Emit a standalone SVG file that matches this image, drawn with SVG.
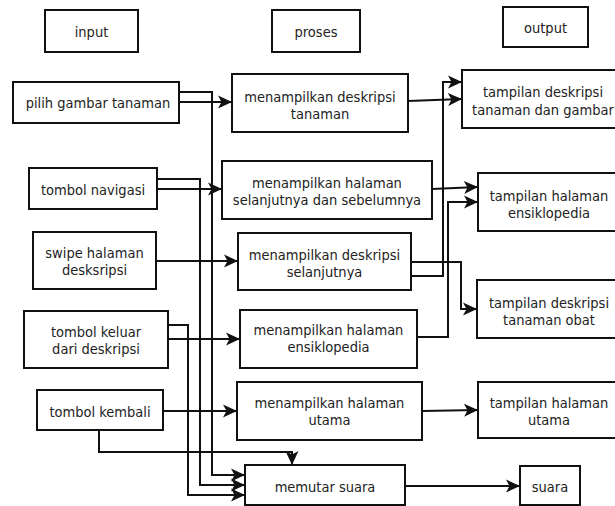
<svg xmlns="http://www.w3.org/2000/svg" width="615" height="506" viewBox="0 0 615 506">
  <style>
    .box { fill: #fff; stroke: #111; stroke-width: 2; }
    .lbl { font-family: "DejaVu Sans Condensed", "DejaVu Sans", sans-serif; font-size: 14.5px; fill: #222; text-anchor: middle; }
    .wire { fill: none; stroke: #111; stroke-width: 2; marker-end: url(#arrow); }
  </style>
  <defs>
    <marker id="arrow" markerUnits="userSpaceOnUse" markerWidth="16" markerHeight="16" refX="15" refY="8" orient="auto">
      <path d="M1,1.5 L15,8 L1,14.5 L4.5,8 Z" fill="#111"/>
    </marker>
  </defs>
  <rect width="615" height="506" fill="#fff"/>

  <!-- column headers -->
  <g id="hdr-input"><rect class="box" x="45" y="10" width="93" height="42"/><text class="lbl" x="91.5" y="36.5">input</text></g>
  <g id="hdr-proses"><rect class="box" x="272" y="10" width="88" height="42"/><text class="lbl" x="316" y="36.5">proses</text></g>
  <g id="hdr-output"><rect class="box" x="503" y="7" width="85" height="40"/><text class="lbl" x="545.5" y="32.5">output</text></g>

  <!-- inputs -->
  <g id="in-pilih"><rect class="box" x="13" y="82" width="166" height="41"/><text class="lbl" x="98" y="107.5">pilih gambar tanaman</text></g>
  <g id="in-navigasi"><rect class="box" x="29" y="168" width="128" height="41"/><text class="lbl" x="93" y="194.5">tombol navigasi</text></g>
  <g id="in-swipe"><rect class="box" x="33" y="232" width="123" height="57"/><text class="lbl" x="94.5" y="257.5">swipe halaman</text><text class="lbl" x="94.5" y="274.5">desksripsi</text></g>
  <g id="in-keluar"><rect class="box" x="24" y="311" width="144" height="57"/><text class="lbl" x="96" y="336.5">tombol keluar</text><text class="lbl" x="96" y="353.5">dari deskripsi</text></g>
  <g id="in-kembali"><rect class="box" x="37" y="390" width="126" height="40"/><text class="lbl" x="100" y="416.5">tombol kembali</text></g>

  <!-- processes -->
  <g id="pr-deskripsi"><rect class="box" x="232" y="74" width="176" height="58"/><text class="lbl" x="320" y="101.5">menampilkan deskripsi</text><text class="lbl" x="320" y="118.5">tanaman</text></g>
  <g id="pr-halaman"><rect class="box" x="222" y="161" width="210" height="58"/><text class="lbl" x="327" y="187.5">menampilkan halaman</text><text class="lbl" x="327" y="204.5">selanjutnya dan sebelumnya</text></g>
  <g id="pr-selanjutnya"><rect class="box" x="238" y="233" width="173" height="57"/><text class="lbl" x="324.5" y="259.5">menampilkan deskripsi</text><text class="lbl" x="324.5" y="276.5">selanjutnya</text></g>
  <g id="pr-ensiklopedia"><rect class="box" x="240" y="310" width="177" height="58"/><text class="lbl" x="328.5" y="334.5">menampilkan halaman</text><text class="lbl" x="328.5" y="351.5">ensiklopedia</text></g>
  <g id="pr-utama"><rect class="box" x="237" y="382" width="185" height="58"/><text class="lbl" x="329.5" y="407.5">menampilkan halaman</text><text class="lbl" x="329.5" y="424.5">utama</text></g>
  <g id="pr-suara"><rect class="box" x="245" y="465" width="160" height="40"/><text class="lbl" x="325" y="491.5">memutar suara</text></g>

  <!-- outputs -->
  <g id="out-deskripsi"><rect class="box" x="462" y="70" width="162" height="58"/><text class="lbl" x="543" y="96.5">tampilan deskripsi</text><text class="lbl" x="543" y="114.5">tanaman dan gambar</text></g>
  <g id="out-ensiklopedia"><rect class="box" x="478" y="173" width="142" height="58"/><text class="lbl" x="549" y="200.5">tampilan halaman</text><text class="lbl" x="549" y="217.5">ensiklopedia</text></g>
  <g id="out-obat"><rect class="box" x="477" y="280" width="143" height="58"/><text class="lbl" x="549" y="307.5">tampilan deskripsi</text><text class="lbl" x="549" y="324.5">tanaman obat</text></g>
  <g id="out-utama"><rect class="box" x="478" y="382" width="142" height="56"/><text class="lbl" x="549" y="407.5">tampilan halaman</text><text class="lbl" x="549" y="424.5">utama</text></g>
  <g id="out-suara"><rect class="box" x="520" y="466" width="60" height="39"/><text class="lbl" x="550" y="491.5">suara</text></g>

  <!-- connectors -->
  <g id="connectors">
    <path class="wire" d="M179,102 H232"/>
    <path class="wire" d="M179,92 H212 V475 H245"/>
    <path class="wire" d="M157,189 H222"/>
    <path class="wire" d="M157,179 H200 V485 H245"/>
    <path class="wire" d="M156,261 H238"/>
    <path class="wire" d="M168,339 H240"/>
    <path class="wire" d="M168,325 H188 V495 H245"/>
    <path class="wire" d="M163,411 H237"/>
    <path class="wire" d="M99,430 V452 H292 V465"/>
    <path class="wire" d="M408,101 L462,99"/>
    <path class="wire" d="M411,276 H443 V82 H462"/>
    <path class="wire" d="M432,189 L478,187"/>
    <path class="wire" d="M417,337 H448 V202 H478"/>
    <path class="wire" d="M411,262 H461 V309 H477"/>
    <path class="wire" d="M422,411 L478,410"/>
    <path class="wire" d="M405,486 H520"/>
  </g>
</svg>
